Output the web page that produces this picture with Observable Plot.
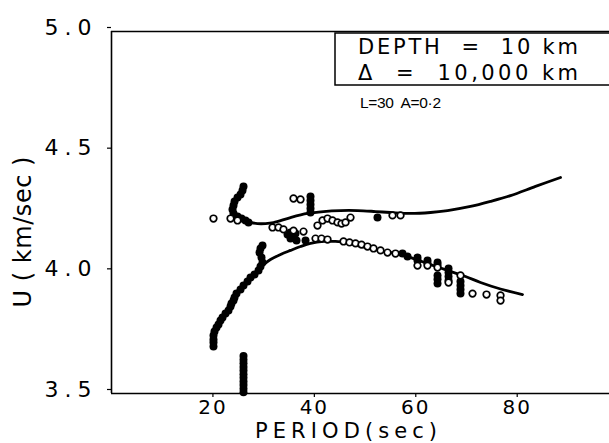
<!DOCTYPE html>
<html><head><meta charset="utf-8">
<script src="https://cdn.jsdelivr.net/npm/d3@7"></script>
<script src="https://cdn.jsdelivr.net/npm/@observablehq/plot@0.6"></script>
<style>body{margin:0;background:#fff;} #chart svg{display:block}</style>
</head><body><div id="chart"></div>
<script>
// ---- data ----
const xTicks = [20, 40, 60, 80];
const yTicks = [3.5, 4.0, 4.5, 5.0];

// theoretical curves
const upperCurvePeriod = [26.42, 27.41, 28.79, 30.37, 31.95, 35.30, 38.65, 41.81, 45.16, 48.51, 52.06, 55.02, 58.96, 62.91, 66.26, 70.79, 74.74, 78.68, 83.61, 88.54];
const upperCurveU      = [4.217, 4.209, 4.204, 4.204, 4.208, 4.229, 4.246, 4.254, 4.258, 4.258, 4.254, 4.250, 4.246, 4.250, 4.258, 4.275, 4.296, 4.320, 4.358, 4.395];
const lowerCurvePeriod = [28.99, 31.35, 33.33, 35.30, 37.27, 39.24, 41.81, 44.17, 46.15, 48.51, 51.07, 54.03, 56.99, 59.55, 62.91, 66.26, 69.81, 72.77, 76.71, 81.05];
const lowerCurveU      = [4.018, 4.055, 4.076, 4.093, 4.109, 4.122, 4.130, 4.130, 4.126, 4.113, 4.101, 4.088, 4.076, 4.059, 4.034, 4.010, 3.985, 3.960, 3.933, 3.910];

// observed (filled symbols)
const filledPeriod = [
  // upper-left cluster
  26.03, 25.83, 25.44, 24.85, 24.26, 24.06, 23.86, 24.06, 24.85, 25.64, 26.42, 27.02,
  // lower-left cluster
  29.78, 29.38, 29.19, 29.58, 29.78, 29.38, 28.99, 28.20, 27.41, 26.82, 26.03, 25.44, 24.65, 24.26, 24.06, 23.66, 23.47, 23.07, 22.48, 21.89, 21.49, 21.10, 20.71, 20.31, 20.11, 20.11, 20.11, 20.11,
  // vertical streak near 26 s
  26.03, 26.03, 26.03, 26.03, 26.03, 26.03, 26.03, 26.03, 26.03, 26.03, 26.03,
  // middle
  39.24, 39.24, 39.24, 39.24, 39.24, 34.71, 35.30, 35.89, 36.48, 38.26, 35.30, 36.28, 52.45,
  // lower-right
  57.38, 58.37, 60.34, 60.34, 62.31, 62.31, 64.29, 64.29, 64.29, 64.29, 64.29, 66.46, 66.46, 66.46, 66.46, 68.82, 68.82, 68.82, 68.82
];
const filledU = [
  4.358, 4.341, 4.325, 4.312, 4.296, 4.279, 4.262, 4.246, 4.233, 4.225, 4.217, 4.209,
  4.113, 4.101, 4.084, 4.064, 4.043, 4.026, 4.010, 3.993, 3.981, 3.964, 3.948, 3.931, 3.914, 3.898, 3.885, 3.873, 3.861, 3.844, 3.831, 3.815, 3.802, 3.786, 3.773, 3.757, 3.740, 3.724, 3.711, 3.695,
  3.655, 3.640, 3.625, 3.610, 3.595, 3.580, 3.565, 3.550, 3.535, 3.520, 3.505,
  4.316, 4.300, 4.283, 4.267, 4.250, 4.159, 4.142, 4.146, 4.134, 4.134, 4.167, 4.163, 4.229,
  4.080, 4.068, 4.064, 4.051, 4.051, 4.040, 4.043, 4.032, 3.989, 3.973, 3.956, 4.018, 4.001, 3.985, 3.968, 3.964, 3.948, 3.931, 3.914
];

// observed (open symbols)
const openPeriod = [20.11, 23.47, 24.85, 31.75, 32.93, 33.92, 35.89, 37.86, 35.89, 37.27, 40.62, 41.61, 42.60, 43.58, 44.57, 45.36, 46.15, 47.13, 55.41, 56.99,
  40.23, 41.41, 42.60, 45.75, 46.93, 48.12, 49.30, 50.48, 51.67, 53.05, 54.43, 56.00, 60.34, 62.31, 64.29, 66.46, 68.82, 71.19, 73.95, 76.71, 76.71];
const openU = [4.225, 4.225, 4.217, 4.188, 4.188, 4.180, 4.175, 4.171, 4.308, 4.304, 4.196, 4.217, 4.225, 4.217, 4.209, 4.204, 4.209, 4.229, 4.238, 4.238,
  4.142, 4.142, 4.138, 4.130, 4.126, 4.122, 4.117, 4.109, 4.101, 4.093, 4.084, 4.080, 4.030, 4.030, 4.022, 3.960, 3.989, 3.914, 3.910, 3.906, 3.885];

const upper = upperCurvePeriod.map((p, i) => ({p, u: upperCurveU[i]}));
const lower = lowerCurvePeriod.map((p, i) => ({p, u: lowerCurveU[i]}));
const filled = filledPeriod.map((p, i) => ({p, u: filledU[i]}));
const open = openPeriod.map((p, i) => ({p, u: openU[i]}));

const FONT = "DejaVu Sans";
const plot = Plot.plot({
  width: 609, height: 443,
  marginLeft: 111, marginRight: 0, marginTop: 31, marginBottom: 50,
  x: {domain: [0, 98.2]},
  y: {domain: [3.5, 5.0]},
  style: {fontFamily: FONT, fontSize: "22px", color: "#000", background: "#fff"},
  marks: [
    Plot.ruleX([0], {stroke: "#000", strokeWidth: 1.6}),
    Plot.ruleY([3.5], {stroke: "#000", strokeWidth: 1.6}),
    Plot.ruleY([5.0], {stroke: "#000", strokeWidth: 1.6}),
    Plot.axisX({ticks: xTicks, tickSize: 4, tickPadding: 2, label: null, tickFormat: d => String(d), fontSize: 20, strokeWidth: 1.2}),
    Plot.axisY({ticks: yTicks, tickSize: 4, tickPadding: 10, label: null, tickFormat: d => d.toFixed(1), fontSize: 22, dy: -4, strokeWidth: 1.2}),
    Plot.line(upper, {x: "p", y: "u", curve: "catmull-rom", stroke: "#000", strokeWidth: 2.8}),
    Plot.line(lower, {x: "p", y: "u", curve: "catmull-rom", stroke: "#000", strokeWidth: 2.8}),
    Plot.dot(filled, {x: "p", y: "u", r: 4, fill: "#000", stroke: "none"}),
    Plot.dot(open, {x: "p", y: "u", r: 3.3, fill: "#fff", stroke: "#000", strokeWidth: 1.7})
  ]
});
document.getElementById("chart").appendChild(plot);

const svg = d3.select(plot);
svg.selectAll('[aria-label="y-axis tick label"] text').style("letter-spacing", "6px");
svg.selectAll('[aria-label="x-axis tick label"] text').style("letter-spacing", "2px");

// axis titles
svg.append("text").attr("x", 346).attr("y", 438).attr("text-anchor", "middle")
  .attr("font-family", FONT).attr("font-size", 21).attr("textLength", 182).attr("lengthAdjust", "spacing")
  .text("PERIOD(sec)");
svg.append("text").attr("transform", "translate(31,232) rotate(-90)").attr("text-anchor", "middle")
  .attr("font-family", FONT).attr("font-size", 24).attr("textLength", 151).attr("lengthAdjust", "spacing")
  .attr("xml:space", "preserve").text("U ( km/sec )");

// annotation box
svg.append("rect").attr("x", 335).attr("y", 33).attr("width", 300).attr("height", 52)
  .attr("fill", "none").attr("stroke", "#000").attr("stroke-width", 1.5);
svg.append("text").attr("x", 358).attr("y", 54).attr("text-anchor", "start").attr("font-family", FONT).attr("font-size", 21)
  .attr("textLength", 220).attr("lengthAdjust", "spacing").attr("xml:space", "preserve").text("DEPTH  =  10 km");
svg.append("text").attr("x", 358).attr("y", 80).attr("text-anchor", "start").attr("font-family", FONT).attr("font-size", 21)
  .attr("textLength", 220).attr("lengthAdjust", "spacing").attr("xml:space", "preserve").text("Δ  =  10,000 km");
svg.append("text").attr("x", 360).attr("y", 108).attr("text-anchor", "start").attr("font-family", "Liberation Sans").attr("font-size", 15.5)
  .attr("textLength", 81).attr("lengthAdjust", "spacing").attr("xml:space", "preserve").text("L=30  A=0·2");
</script>
</body></html>
